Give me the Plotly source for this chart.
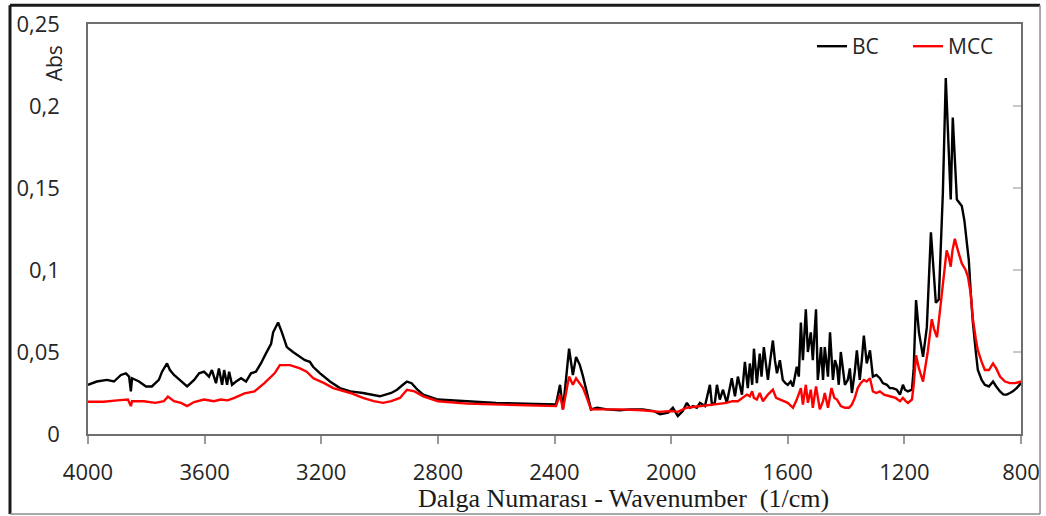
import plotly.graph_objects as go

# ---- data ----
bc_wavenumber = [
    4000, 3970, 3935, 3911, 3887, 3870, 3859, 3853, 3849, 3825, 3801, 3781, 3757, 3746,
    3729, 3719, 3705, 3681, 3660, 3636, 3619, 3602, 3585, 3575, 3561, 3551, 3540, 3533,
    3523, 3516, 3506, 3492, 3475, 3458, 3441, 3424, 3407, 3390, 3372, 3365, 3348, 3335,
    3318, 3297, 3273, 3256, 3239, 3228, 3204, 3170, 3136, 3100, 3057, 2999, 2960, 2940,
    2920, 2906, 2890, 2870, 2850, 2800, 2700, 2600, 2500, 2400, 2395, 2381, 2371, 2350,
    2337, 2326, 2313, 2302, 2289, 2275, 2254, 2220, 2176, 2140, 2097, 2060, 2038, 2010,
    1994, 1977, 1960, 1946, 1935, 1925, 1912, 1901, 1884, 1867, 1860, 1850, 1843, 1833,
    1822, 1809, 1792, 1781, 1771, 1757, 1747, 1737, 1730, 1722, 1716, 1706, 1696, 1690,
    1682, 1668, 1660, 1651, 1644, 1637, 1627, 1617, 1608, 1600, 1590, 1582, 1569, 1562,
    1555, 1548, 1538, 1531, 1521, 1514, 1503, 1497, 1490, 1486, 1479, 1473, 1462, 1455,
    1445, 1438, 1431, 1425, 1418, 1404, 1394, 1387, 1380, 1370, 1363, 1353, 1346, 1339,
    1329, 1318, 1308, 1296, 1284, 1274, 1260, 1250, 1240, 1226, 1215, 1205, 1198, 1188,
    1174, 1168, 1160, 1150, 1136, 1123, 1109, 1100, 1092, 1082, 1068, 1058, 1050, 1041,
    1034, 1027, 1020, 1003, 994, 986, 979, 972, 965, 955, 948, 935, 924, 910,
    896, 885, 872, 860, 849, 838, 828, 815, 800,
]
bc_abs = [
    0.030, 0.032, 0.033, 0.032, 0.036, 0.037, 0.035, 0.026, 0.034, 0.032, 0.029, 0.029, 0.033, 0.038,
    0.043, 0.039, 0.036, 0.032, 0.029, 0.033, 0.037, 0.038, 0.035, 0.039, 0.031, 0.040, 0.030, 0.039,
    0.030, 0.038, 0.030, 0.032, 0.034, 0.032, 0.037, 0.038, 0.043, 0.049, 0.055, 0.062, 0.068, 0.062,
    0.053, 0.050, 0.047, 0.045, 0.044, 0.041, 0.037, 0.032, 0.028, 0.026, 0.025, 0.023, 0.025, 0.027,
    0.030, 0.032, 0.031, 0.027, 0.024, 0.021, 0.020, 0.019, 0.0185, 0.018, 0.018, 0.030, 0.015, 0.052,
    0.036, 0.047, 0.042, 0.035, 0.026, 0.015, 0.016, 0.015, 0.0145, 0.015, 0.015, 0.014, 0.012, 0.013,
    0.016, 0.011, 0.014, 0.019, 0.016, 0.017, 0.016, 0.019, 0.017, 0.030, 0.018, 0.019, 0.030, 0.021,
    0.027, 0.019, 0.034, 0.023, 0.035, 0.024, 0.044, 0.028, 0.043, 0.030, 0.052, 0.031, 0.049, 0.035,
    0.053, 0.033, 0.045, 0.057, 0.045, 0.037, 0.045, 0.033, 0.031, 0.030, 0.032, 0.029, 0.041, 0.035,
    0.068, 0.045, 0.076, 0.050, 0.062, 0.045, 0.076, 0.033, 0.045, 0.053, 0.033, 0.053, 0.035, 0.062,
    0.033, 0.045, 0.041, 0.030, 0.050, 0.030, 0.033, 0.040, 0.025, 0.038, 0.051, 0.033, 0.045, 0.060,
    0.043, 0.051, 0.035, 0.036, 0.034, 0.031, 0.030, 0.028, 0.028, 0.027, 0.024, 0.030, 0.027, 0.026,
    0.027, 0.040, 0.0817, 0.062, 0.047, 0.065, 0.123, 0.100, 0.080, 0.082, 0.147, 0.217, 0.180, 0.143,
    0.193, 0.165, 0.143, 0.139, 0.130, 0.117, 0.106, 0.085, 0.068, 0.050, 0.039, 0.033, 0.030, 0.029,
    0.032, 0.029, 0.026, 0.024, 0.024, 0.025, 0.026, 0.028, 0.031,
]

mcc_wavenumber = [
    4000, 3946, 3900, 3863, 3853, 3849, 3808, 3769, 3740, 3726, 3705, 3681, 3660, 3636,
    3602, 3568, 3545, 3521, 3498, 3463, 3429, 3395, 3360, 3342, 3307, 3273, 3250, 3227,
    3190, 3159, 3100, 3057, 3020, 2988, 2960, 2930, 2906, 2880, 2850, 2800, 2700, 2600,
    2500, 2400, 2395, 2381, 2371, 2350, 2337, 2326, 2313, 2302, 2289, 2275, 2220, 2176,
    2100, 2038, 2000, 1977, 1946, 1920, 1900, 1880, 1850, 1830, 1810, 1790, 1771, 1755,
    1740, 1730, 1722, 1716, 1706, 1696, 1685, 1668, 1651, 1640, 1627, 1617, 1600, 1582,
    1569, 1555, 1548, 1538, 1531, 1521, 1514, 1503, 1490, 1479, 1473, 1462, 1450, 1440,
    1431, 1418, 1404, 1390, 1380, 1370, 1360, 1350, 1339, 1329, 1318, 1308, 1296, 1284,
    1270, 1250, 1230, 1215, 1205, 1195, 1188, 1174, 1168, 1160, 1150, 1136, 1120, 1106,
    1098, 1088, 1075, 1065, 1055, 1048, 1041, 1035, 1027, 1015, 1003, 990, 982, 972,
    965, 955, 948, 935, 924, 910, 900, 896, 885, 872, 855, 838, 820, 800,
]
mcc_abs = [
    0.0197, 0.0197, 0.0205, 0.021, 0.017, 0.020, 0.020, 0.019, 0.020, 0.0228, 0.020, 0.019, 0.017, 0.0195,
    0.021, 0.020, 0.021, 0.0205, 0.022, 0.0248, 0.026, 0.031, 0.037, 0.042, 0.042, 0.040, 0.038, 0.034,
    0.031, 0.028, 0.025, 0.022, 0.020, 0.019, 0.020, 0.022, 0.027, 0.026, 0.023, 0.020, 0.0185, 0.018,
    0.0175, 0.017, 0.017, 0.024, 0.015, 0.035, 0.030, 0.034, 0.031, 0.028, 0.022, 0.015, 0.015, 0.015,
    0.0145, 0.0135, 0.014, 0.0135, 0.016, 0.0165, 0.0167, 0.0175, 0.018, 0.0185, 0.019, 0.020, 0.020, 0.022,
    0.024, 0.023, 0.026, 0.022, 0.021, 0.025, 0.020, 0.024, 0.027, 0.022, 0.021, 0.020, 0.019, 0.016,
    0.021, 0.028, 0.018, 0.030, 0.019, 0.027, 0.016, 0.029, 0.015, 0.020, 0.025, 0.016, 0.028, 0.022,
    0.021, 0.017, 0.016, 0.016, 0.018, 0.022, 0.028, 0.031, 0.033, 0.032, 0.034, 0.026, 0.025, 0.026,
    0.024, 0.023, 0.022, 0.020, 0.022, 0.020, 0.019, 0.021, 0.030, 0.048, 0.040, 0.032, 0.050, 0.070,
    0.064, 0.059, 0.080, 0.100, 0.112, 0.108, 0.102, 0.112, 0.119, 0.111, 0.104, 0.100, 0.096, 0.085,
    0.070, 0.058, 0.051, 0.044, 0.039, 0.039, 0.042, 0.043, 0.040, 0.035, 0.032, 0.031, 0.031, 0.032,
]

series_names = ["BC", "MCC"]
x_ticks = [4000, 3600, 3200, 2800, 2400, 2000, 1600, 1200, 800]
y_ticks = [0, 0.05, 0.1, 0.15, 0.2, 0.25]

# ---- figure ----
fig = go.Figure()
fig.add_trace(go.Scatter(x=bc_wavenumber, y=bc_abs, mode="lines", name=series_names[0],
                         line=dict(color="#000000", width=2.4)))
fig.add_trace(go.Scatter(x=mcc_wavenumber, y=mcc_abs, mode="lines", name=series_names[1],
                         line=dict(color="#ff0000", width=2.4)))
# invisible helper trace for the right-side inside tick marks
fig.add_trace(go.Scatter(x=[x_ticks[0]], y=[y_ticks[0]], yaxis="y2", mode="markers",
                         marker=dict(opacity=0), showlegend=False, hoverinfo="skip"))

tick_font = dict(family="Open Sans", size=22, color="#262626")
axis_col = "#6e6e6e"

fig.update_layout(
    width=1046, height=516,
    margin=dict(l=88, r=25, t=24, b=82, autoexpand=False),
    paper_bgcolor="white", plot_bgcolor="white",
    separators=",.",
    showlegend=True,
    legend=dict(orientation="h", x=0.776, y=0.945, xanchor="left", yanchor="middle",
                font=dict(family="Open Sans", size=21, color="#262626"),
                bgcolor="rgba(0,0,0,0)", itemwidth=30, entrywidth=51, tracegroupgap=0),
    xaxis=dict(range=[4000, 800], tickvals=x_ticks, ticks="outside", ticklen=8,
               tickcolor="#9a9a9a", tickwidth=1.5, showline=True, linecolor=axis_col,
               linewidth=1.5, mirror=True, showgrid=False, zeroline=False, automargin=False,
               tickfont=tick_font, ticklabelstandoff=10),
    yaxis=dict(range=[0, 0.25], tickvals=y_ticks, ticks="", showline=True,
               linecolor=axis_col, linewidth=1.5, mirror=True, showgrid=False,
               zeroline=False, automargin=False, tickfont=tick_font, ticklabelstandoff=22),
    yaxis2=dict(range=[0, 0.25], tickvals=y_ticks, overlaying="y", side="right",
                ticks="inside", ticklen=8, tickcolor="#c8c8c8", tickwidth=1.5,
                showticklabels=False, showgrid=False, zeroline=False, showline=False,
                automargin=False),
    annotations=[
        dict(text="Abs", xref="paper", yref="paper", x=-0.036, y=0.905,
             showarrow=False, textangle=-90, xanchor="center", yanchor="middle",
             font=dict(family="Open Sans", size=21, color="#262626")),
        dict(text="Dalga Numarası - Wavenumber\u00a0 (1/cm)", xref="paper", yref="paper",
             x=0.574, y=-0.158, showarrow=False, xanchor="center", yanchor="middle",
             font=dict(family="Liberation Serif", size=26, color="#1a1a1a")),
    ],
    shapes=[
        dict(type="line", xref="paper", yref="paper", x0=-0.0836, x1=1.0204, y0=1.046, y1=1.046,
             line=dict(color="#1a1a1a", width=3)),
        dict(type="line", xref="paper", yref="paper", x0=-0.0836, x1=-0.0836, y0=1.046, y1=-0.195,
             line=dict(color="#1a1a1a", width=3)),
        dict(type="line", xref="paper", yref="paper", x0=-0.0836, x1=1.0204, y0=-0.195, y1=-0.195,
             line=dict(color="#8c8c8c", width=1.5)),
        dict(type="line", xref="paper", yref="paper", x0=1.0204, x1=1.0204, y0=1.046, y1=-0.195,
             line=dict(color="#8c8c8c", width=1.5)),
    ],
)

fig.write_html("out.html")
